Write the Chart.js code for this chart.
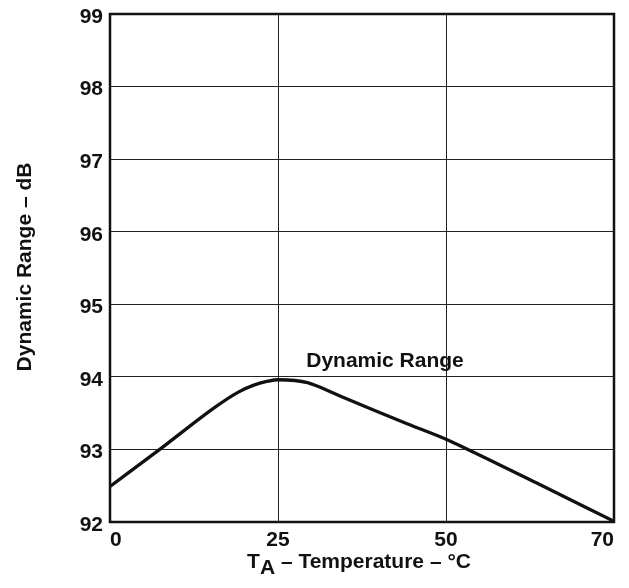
<!DOCTYPE html>
<html>
<head>
<meta charset="utf-8">
<script src="https://cdn.jsdelivr.net/npm/chart.js@4/dist/chart.umd.min.js"></script>
<style>
  html, body { margin: 0; padding: 0; background: #fff; }
  #wrap { width: 629px; height: 588px; position: relative; }
</style>
</head>
<body>
<div id="wrap"><canvas id="c" width="629" height="588"></canvas></div>
<script>
// ---- data ----
const xTickLabels = [0, 25, 50, 70];           // temperature ticks (equally spaced on the axis)
const yTickValues = [92, 93, 94, 95, 96, 97, 98, 99];
const temperatureC = [0, 7.4, 15.6, 19.1, 21.5, 23.5, 25, 27.5, 29.4, 30.9, 34.4, 39.3, 44.3, 50, 52.6, 61.1, 70];
const dynamicRangeDb = [92.49, 93.0, 93.58, 93.79, 93.89, 93.94, 93.96, 93.95, 93.92, 93.87, 93.73, 93.54, 93.35, 93.14, 93.0, 92.52, 92.01];
const seriesLabel = 'Dynamic Range';
const xTitleMain = 'T';
const xTitleSub = 'A';
const xTitleRest = ' \u2013 Temperature \u2013 \u00B0C';
const yTitle = 'Dynamic Range \u2013 dB';

// the x axis places 0,25,50,70 at equal spacing: map temperature to tick-index space piecewise
function tempToPos(t) {
  for (let i = 0; i < xTickLabels.length - 1; i++) {
    const a = xTickLabels[i], b = xTickLabels[i + 1];
    if (t <= b || i === xTickLabels.length - 2) return i + (t - a) / (b - a);
  }
}
const points = temperatureC.map((t, i) => ({ x: tempToPos(t), y: dynamicRangeDb[i] }));

const FONT = '"Liberation Sans", Arial, Helvetica, sans-serif';
const INK = '#111';
const FS = 21;

const decor = {
  id: 'decor',
  afterDraw(chart) {
    const { ctx, chartArea: a, scales } = chart;
    ctx.save();
    // frame
    ctx.strokeStyle = INK;
    ctx.lineWidth = 2.5;
    ctx.strokeRect(a.left, a.top, a.right - a.left, a.bottom - a.top);
    // series label
    ctx.fillStyle = INK;
    ctx.font = 'bold ' + FS + 'px ' + FONT;
    ctx.textAlign = 'left';
    ctx.textBaseline = 'alphabetic';
    ctx.fillText(seriesLabel, scales.x.getPixelForValue(tempToPos(29.2)), scales.y.getPixelForValue(94.14));
    // x title with subscript
    const wT = ctx.measureText(xTitleMain).width;
    const wA = ctx.measureText(xTitleSub).width;
    const wR = ctx.measureText(xTitleRest).width;
    const total = wT + wA + wR;
    let x0 = 359 - total / 2;
    const base = 568;
    ctx.fillText(xTitleMain, x0, base);
    ctx.fillText(xTitleSub, x0 + wT, base + 6);
    ctx.fillText(xTitleRest, x0 + wT + wA, base);
    // y title
    ctx.translate(31, 267);
    ctx.rotate(-Math.PI / 2);
    ctx.textAlign = 'center';
    ctx.fillText(yTitle, 0, 0);
    ctx.restore();
  }
};

new Chart(document.getElementById('c'), {
  type: 'line',
  data: {
    datasets: [{
      label: seriesLabel,
      data: points,
      borderColor: INK,
      borderWidth: 3.3,
      pointRadius: 0,
      fill: false,
      cubicInterpolationMode: 'monotone'
    }]
  },
  options: {
    responsive: false,
    animation: false,
    layout: { padding: { top: 14, right: 15, left: 0, bottom: 0 } },
    plugins: { legend: { display: false }, tooltip: { enabled: false } },
    scales: {
      x: {
        type: 'linear',
        min: 0,
        max: xTickLabels.length - 1,
        afterBuildTicks(s) { s.ticks = xTickLabels.map((v, i) => ({ value: i })); },
        afterFit(s) { s.height = 66; s.paddingLeft = 0; s.paddingRight = 0; },
        grid: { color: '#222', lineWidth: 1, drawTicks: false },
        border: { display: false },
        ticks: {
          align: 'inner',
          padding: 6,
          color: INK,
          font: { family: FONT, size: FS, weight: 'bold' },
          callback: (v) => String(xTickLabels[Math.round(v)])
        }
      },
      y: {
        min: yTickValues[0],
        max: yTickValues[yTickValues.length - 1],
        afterBuildTicks(s) { s.ticks = yTickValues.map(v => ({ value: v })); },
        afterFit(s) { s.width = 110; s.paddingTop = 0; s.paddingBottom = 0; },
        grid: { color: '#222', lineWidth: 1, drawTicks: false },
        border: { display: false },
        ticks: {
          padding: 7,
          labelOffset: 3,
          color: INK,
          font: { family: FONT, size: FS, weight: 'bold' }
        }
      }
    }
  },
  plugins: [decor]
});
</script>
</body>
</html>
